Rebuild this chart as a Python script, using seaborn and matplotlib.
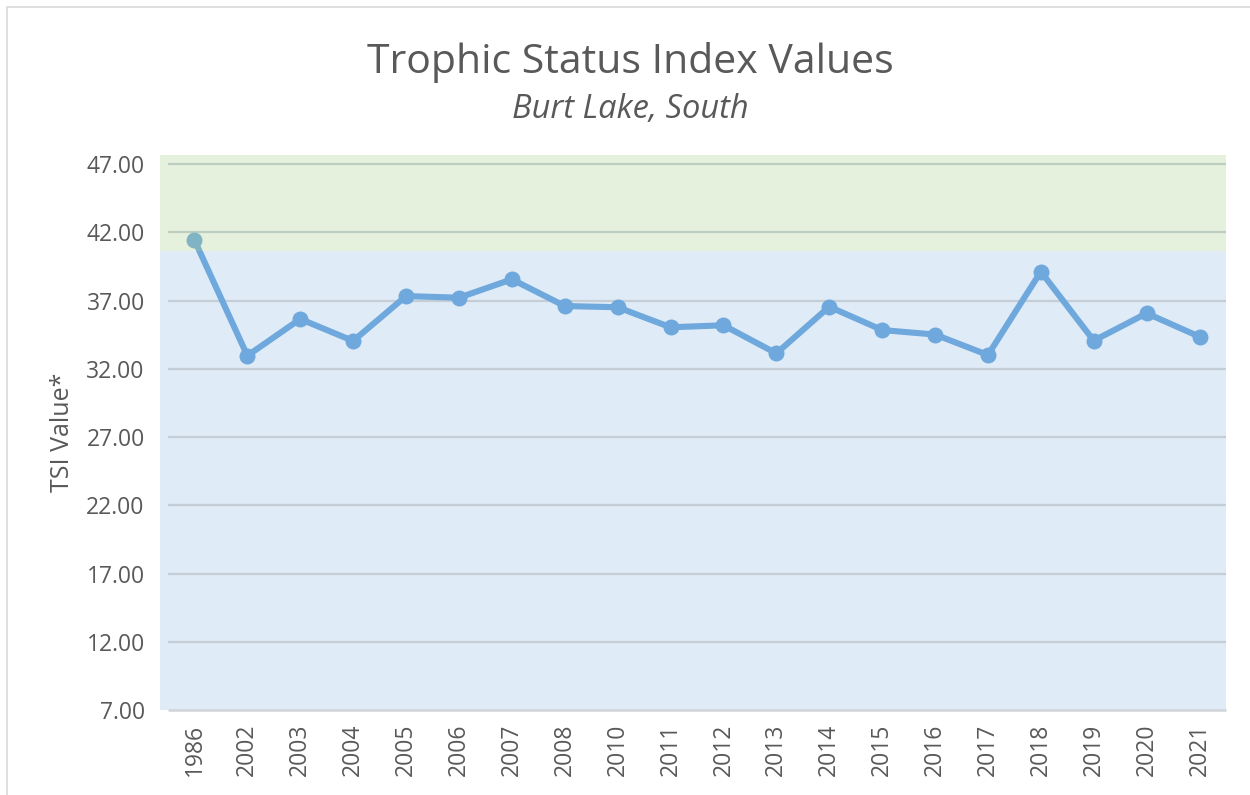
import matplotlib
matplotlib.use("Agg")
import matplotlib.pyplot as plt
import seaborn as sns
import pandas as pd
from matplotlib.patches import Rectangle

years = ['1986', '2002', '2003', '2004', '2005', '2006', '2007', '2008', '2010', '2011',
         '2012', '2013', '2014', '2015', '2016', '2017', '2018', '2019', '2020', '2021']
tsi = [41.45, 32.97, 35.66, 34.05, 37.34, 37.22, 38.57, 36.61, 36.52, 35.05,
       35.20, 33.14, 36.56, 34.85, 34.52, 33.02, 39.13, 34.07, 36.08, 34.36]
yticks = [7, 12, 17, 22, 27, 32, 37, 42, 47]
band_split = 40.63

df = pd.DataFrame({'year': years, 'tsi': tsi})

sns.set_theme(style='white')
plt.rcParams['font.family'] = ['Open Sans', 'DejaVu Sans']
text_color = '#595959'

fig = plt.figure(figsize=(12.5, 7.95), dpi=100)
ax = fig.add_axes([160 / 1250, 1 - 710 / 795, 1066 / 1250, 555 / 795])

ymax = 47.68
n = len(years)
ax.axhspan(7, band_split, color='#DFEBF6', zorder=0, lw=0)
ax.axhspan(band_split, ymax, color='#A9D18E', alpha=0.3, zorder=5, lw=0)
ax.hlines(yticks[1:], -0.5, n - 0.5, color='#C5CED6', linewidth=1.6, zorder=1)
ax.hlines([7], -0.5, n - 0.5, color='#D0D4D8', linewidth=1.8, zorder=1, clip_on=False)

sns.lineplot(data=df, x='year', y='tsi', ax=ax, color='#6FA8DC', linewidth=4.4,
             marker='o', markersize=11.5, markeredgewidth=0, zorder=3, sort=False)

ax.set_xlim(-0.651, n - 0.5)
ax.set_ylim(7, ymax)
ax.set_yticks(yticks)
ax.set_yticklabels([f'{v:.2f}' for v in yticks])
for s in ['top', 'right', 'left', 'bottom']:
    ax.spines[s].set_visible(False)

ax.tick_params(axis='y', length=0, labelsize=16.5, labelcolor=text_color, pad=11)
ax.tick_params(axis='x', length=0, labelsize=16.5, labelcolor=text_color, pad=10, rotation=90)
ax.set_xlabel('')
ax.set_ylabel('TSI Value*', fontsize=18, color=text_color, labelpad=8)

fig.text(0.504, 0.922, 'Trophic Status Index Values', ha='center', va='center',
         fontsize=29.5, color=text_color)
fig.text(0.504, 0.862, 'Burt Lake, South', ha='center', va='center',
         fontsize=23.5, color=text_color, style='italic')

fig.patches.append(Rectangle((7 / 1250, -0.1), 1.2, 1 - 7 / 795 + 0.1, transform=fig.transFigure,
                             fill=False, edgecolor='#D9D9D9', linewidth=1.2, zorder=0))

fig.savefig('out.png', dpi=100, facecolor='white')
